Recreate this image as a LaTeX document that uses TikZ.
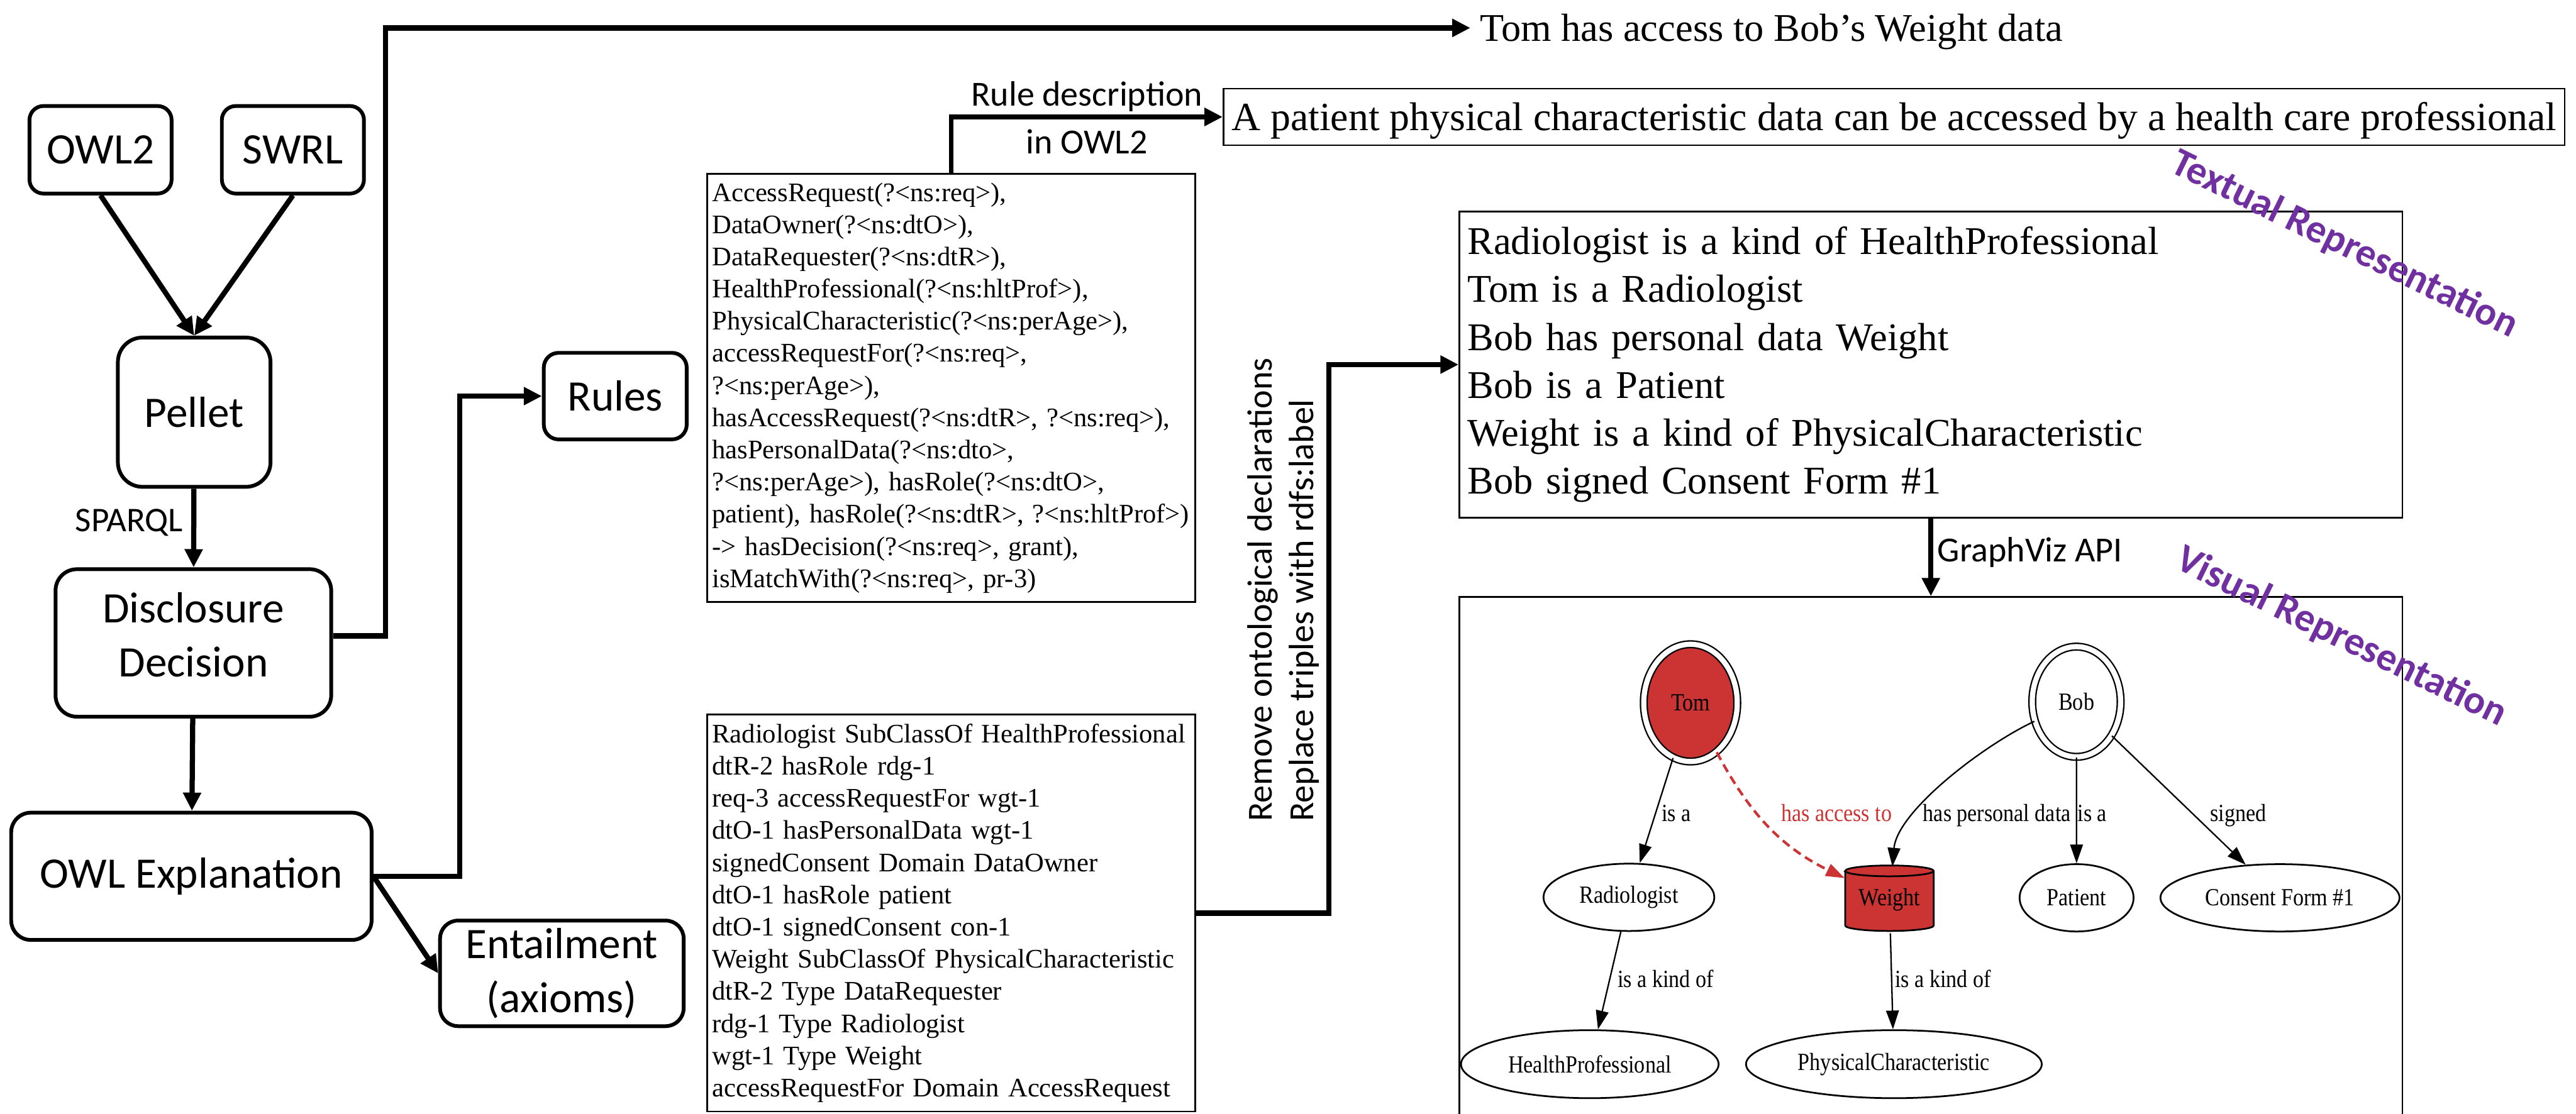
\documentclass[tikz,border=0pt]{standalone}
\usepackage{fontspec}
\setmainfont{Liberation Serif}
\newfontfamily\calfont{Carlito}
\newfontfamily\gvfont{Liberation Serif}[FakeStretch=0.87]
\usetikzlibrary{positioning}
\usetikzlibrary{calc}
\usetikzlibrary{arrows.meta}
\usetikzlibrary{shapes.geometric}

\definecolor{owlpurple}{RGB}{112,48,160}
\definecolor{gvred}{RGB}{204,51,51}

\begin{document}
\begin{tikzpicture}[x=0.2mm, y=-0.2mm]

% Define styles for different elements
\tikzstyle{block} = [rectangle, rounded corners=2.4mm, draw=black, line width=1.3pt, align=center, inner sep=0pt, font=\calfont\fontsize{15.08}{18.6}\selectfont]
\tikzstyle{arrow} = [line width=1.8pt, -{Triangle[length=6.3pt, width=6pt]}]
\tikzstyle{codebox} = [rectangle, draw=black, line width=0.55pt, align=left, text width=58.2mm, inner sep=0pt, minimum width=59.44mm, font=\fontsize{9.28}{11.15}\selectfont]
\tikzstyle{sentence} = [rectangle, inner ysep=0pt, text height=12.38pt, text depth=3pt, font=\fontsize{13.89}{16.62}\selectfont]
\tikzstyle{captiontext} = [inner sep=0pt, font=\calfont\fontsize{12.2}{14.57}\selectfont]
\tikzstyle{gvnode} = [ellipse, draw=black, line width=0.6pt, inner sep=0pt, minimum height=8.2mm, font=\gvfont\fontsize{8.54}{10}\selectfont]
\tikzstyle{gvedge} = [line width=0.5pt, -{Triangle[length=6.5pt, width=4.4pt]}]
\tikzstyle{gvlabel} = [anchor=base west, inner sep=0pt, font=\gvfont\fontsize{8.54}{10}\selectfont]
\tikzstyle{reprlabel} = [inner sep=0pt, text=owlpurple, rotate=-26, font=\calfont\bfseries\fontsize{13.8}{15}\selectfont]

% Fix the page size
\useasboundingbox (0,0) rectangle (1568,678);

% Draw the nodes
\node (owl2) [block, rounded corners=1.7mm, minimum width=17.3mm, minimum height=10.66mm] at (61.2,91.2) {OWL2};
\node (swrl) [block, rounded corners=1.7mm, minimum width=17.3mm, minimum height=10.66mm, right=5.66mm of owl2] {SWRL};
\node (pellet) [block, rounded corners=3mm, minimum width=18.58mm, minimum height=18.18mm] at (118.2,251) {Pellet};
\node (disclosure) [block, rounded corners=2.6mm, minimum width=33.56mm, minimum height=17.96mm, text depth=5.7pt] at (117.7,391.5) {Disclosure\\Decision};
\node (owlexp) [block, minimum width=43.88mm, minimum height=15.5mm] at (116.5,533.6) {OWL Explanation};
\node (rules) [block, rounded corners=1.8mm, minimum width=17.4mm, minimum height=10.54mm] at (374.5,241.2) {Rules};
\node (entail) [block, rounded corners=2.2mm, minimum width=29.66mm, minimum height=12.86mm] at (342,592.7) {Entailment\\(axioms)};
\node (sparql) [captiontext, anchor=base, font=\calfont\fontsize{12}{14}\selectfont] at (78.65,323.7) {SPARQL};

\node (rulebox) [codebox, minimum height=52.14mm] at (579,236.15) {AccessRequest(?<ns:req>),\\
DataOwner(?<ns:dtO>),\\
DataRequester(?<ns:dtR>),\\
HealthProfessional(?<ns:hltProf>),\\
PhysicalCharacteristic(?<ns:perAge>),\\
accessRequestFor(?<ns:req>,\\
?<ns:perAge>),\\
hasAccessRequest(?<ns:dtR>, ?<ns:req>),\\
hasPersonalData(?<ns:dto>,\\
?<ns:perAge>), hasRole(?<ns:dtO>,\\
patient), hasRole(?<ns:dtR>, ?<ns:hltProf>)\\
-> hasDecision(?<ns:req>, grant),\\
isMatchWith(?<ns:req>, pr-3)};
\node (axiombox) [codebox, minimum height=48.34mm] at (579,556) {Radiologist SubClassOf HealthProfessional\\
dtR-2 hasRole rdg-1\\
req-3 accessRequestFor wgt-1\\
dtO-1 hasPersonalData wgt-1\\
signedConsent Domain DataOwner\\
dtO-1 hasRole patient\\
dtO-1 signedConsent con-1\\
Weight SubClassOf PhysicalCharacteristic\\
dtR-2 Type DataRequester\\
rdg-1 Type Radiologist\\
wgt-1 Type Weight\\
accessRequestFor Domain AccessRequest};
\node (declnote) [captiontext, rotate=90, anchor=north west, align=left] at (758.8,500.5) {Remove ontological declarations\\Replace triples with rdfs:label};

\node (tomtext) [sentence, anchor=west, inner xsep=1.1mm, font=\fontsize{13.6}{16}\selectfont] at (895,17) {Tom has access to Bob's Weight data};
\node (statement) [sentence, draw=black, line width=0.55pt, minimum width=163.26mm, minimum height=6.92mm, inner xsep=0pt] at (1152.85,71.2) {A patient physical characteristic data can be accessed by a health care professional};
\node (textual) [rectangle, draw=black, line width=0.55pt, align=left, text width=112.8mm, inner xsep=1mm, inner ysep=0pt, minimum height=37.26mm, font=\fontsize{13.6}{16.62}\selectfont] at (1175.3,222) {Radiologist is a kind of HealthProfessional\\
Tom is a Radiologist\\
Bob has personal data Weight\\
Bob is a Patient\\
Weight is a kind of PhysicalCharacteristic\\
Bob signed Consent Form \#1};
\node (graphbox) [rectangle, draw=black, line width=0.55pt, minimum width=114.8mm, minimum height=63.7mm] at (1175.3,522.75) {};
\node (gvapi) [captiontext, anchor=base west] at (1179,342) {GraphViz API};
\node (textrep) [reprlabel] at (1427,149) {Textual Representation};
\node (visrep) [reprlabel] at (1425,388) {Visual Representation};

% The GraphViz picture
\node (tom) [gvnode, fill=gvred, double, double distance=1.8pt, line width=0.5pt, minimum width=11.38mm, minimum height=14.28mm] at (1029,428) {Tom};
\node (bob) [gvnode, double, double distance=1.8pt, line width=0.5pt, minimum width=10.76mm, minimum height=13.42mm] at (1263.9,427.3) {Bob};
\node (rad) [gvnode, minimum width=20.8mm] at (991.5,546.4) {Radiologist};
\node (patient) [gvnode, minimum width=13.88mm] at (1264,546.7) {Patient};
\node (consent) [gvnode, minimum width=29.1mm] at (1387.8,546.7) {Consent Form \#1};
\node (hp) [gvnode, minimum width=31.36mm, minimum height=8.28mm] at (967.7,648) {HealthProfessional};
\node (pc) [gvnode, minimum width=36mm, minimum height=8.28mm] at (1152.8,648) {PhysicalCharacteristic};
\path [fill=gvred, draw=black, line width=0.6pt] (1123.2,530.3) -- (1123.2,563.6) arc[start angle=180, end angle=360, x radius=5.38mm, y radius=0.66mm] -- (1177,530.3) arc[start angle=0, end angle=180, x radius=5.38mm, y radius=0.66mm] -- cycle;
\draw [line width=0.6pt] (1123.2,530.3) arc[start angle=180, end angle=360, x radius=5.38mm, y radius=0.66mm];
\node (weight) [inner sep=0pt, minimum width=10.76mm, minimum height=7.98mm, font=\gvfont\fontsize{8.54}{10}\selectfont] at (1150.1,548) {Weight};

\draw [gvedge] (tom) -- (rad);
\draw [gvedge, gvred, line width=0.9pt, dash pattern=on 3pt off 1.8pt] (tom) to[out=-62, in=154] (weight);
\draw [gvedge] (bob) to[out=-155, in=85, looseness=0.7] (weight);
\draw [gvedge] (bob) -- (patient);
\draw [gvedge] (bob) -- (consent);
\draw [gvedge] (rad) -- (hp);
\draw [gvedge] (weight) -- (pc);

\node (lblisa) [gvlabel] at (1011.2,500.3) {is a};
\node (lblaccess) [gvlabel, text=gvred] at (1083.8,500.3) {has access to};
\node (lblpersonal) [gvlabel] at (1170.2,500.3) {has personal data};
\node (lblpatient) [gvlabel] at (1264.3,500.3) {is a};
\node (lblsigned) [gvlabel] at (1345,500.3) {signed};
\node (lblradkind) [gvlabel] at (984.3,601.2) {is a kind of};
\node (lblwgtkind) [gvlabel] at (1153.2,601.2) {is a kind of};

% Draw the arrows
\draw [arrow] (owl2.south) -- (pellet.north);
\draw [arrow] (swrl.south) -- (pellet.north);
\draw [arrow] (pellet) -- (disclosure);
\draw [arrow] (disclosure) -- (owlexp);
\coordinate (topbend) at (234.8,17);
\draw [arrow] ([yshift=0.86mm]disclosure.east) -| (topbend) -- (tomtext.west);
\draw [arrow] (owlexp.east) -- ++(52.4,0) |- (rules.west);
\draw [arrow] (owlexp.east) -- (entail.west);
\draw [arrow, line width=1.65pt] (rulebox.north) |- node (ruledesc) [captiontext, pos=0.75, above=1pt] {Rule description} node (inowl) [captiontext, pos=0.75, below=3.6pt] {in OWL2} (statement.west);
\draw [arrow] (axiombox.east) -- ++(80.7,0) |- (textual.west);
\draw [arrow] (textual.south) -- (graphbox.north);
\end{tikzpicture}
\end{document}
